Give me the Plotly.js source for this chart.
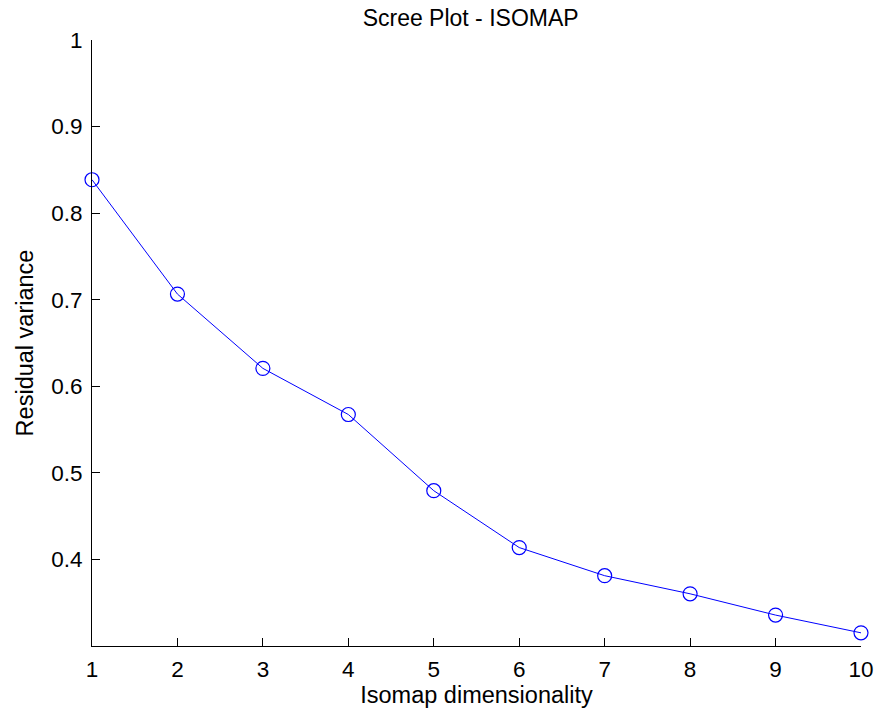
<!DOCTYPE html>
<html>
<head>
<meta charset="utf-8">
<script src="https://cdn.plot.ly/plotly-3.0.1.min.js"></script>
<style>html,body{margin:0;padding:0;background:#fff;}#chart{width:883px;height:709px;}</style>
</head>
<body>
<div id="chart"></div>
<script>
const dims = [1, 2, 3, 4, 5, 6, 7, 8, 9, 10];
const residualVariance = [0.8386, 0.7065, 0.6207, 0.5674, 0.4794, 0.4137, 0.3812, 0.3603, 0.3357, 0.3152];
const yTicks = [0.4, 0.5, 0.6, 0.7, 0.8, 0.9, 1];
const yTickText = ['0.4', '0.5', '0.6', '0.7', '0.8', '0.9', '1'];

const fam = 'Liberation Sans, Arial, sans-serif';
const tickFont = {family: fam, size: 22.5, color: '#000'};
const titleFont = {family: fam, size: 23.5, color: '#000'};

Plotly.newPlot('chart', [{
  x: dims,
  y: residualVariance,
  type: 'scatter',
  mode: 'lines+markers',
  line: {color: '#0000FF', width: 1},
  marker: {symbol: 'circle-open', size: 14, color: '#0000FF', line: {color: '#0000FF', width: 1.2}},
  cliponaxis: false,
  showlegend: false
}], {
  width: 883, height: 709,
  margin: {l: 92, r: 22, t: 40, b: 63},
  paper_bgcolor: '#fff', plot_bgcolor: '#fff',
  font: tickFont,
  title: {text: 'Scree Plot - ISOMAP', font: {family: fam, size: 23, color: '#000'}, x: 0.533, xanchor: 'center', y: 0.975, yanchor: 'middle'},
  xaxis: {
    range: [1, 10], tickvals: dims, showgrid: false, zeroline: false,
    showline: true, linecolor: '#000', linewidth: 1,
    ticks: 'inside', ticklen: 8, tickcolor: '#000', tickwidth: 1,
    tickfont: tickFont, ticklabelstandoff: 3,
    title: {text: 'Isomap dimensionality', font: titleFont, standoff: 1}
  },
  yaxis: {
    range: [0.3, 1], tickvals: yTicks, ticktext: yTickText, showgrid: false, zeroline: false,
    showline: true, linecolor: '#000', linewidth: 1,
    ticks: 'inside', ticklen: 8, tickcolor: '#000', tickwidth: 1,
    tickfont: tickFont, ticklabelstandoff: 4,
    title: {text: 'Residual variance', font: titleFont, standoff: 10}
  }
}, {displayModeBar: false, staticPlot: true});
</script>
</body>
</html>
